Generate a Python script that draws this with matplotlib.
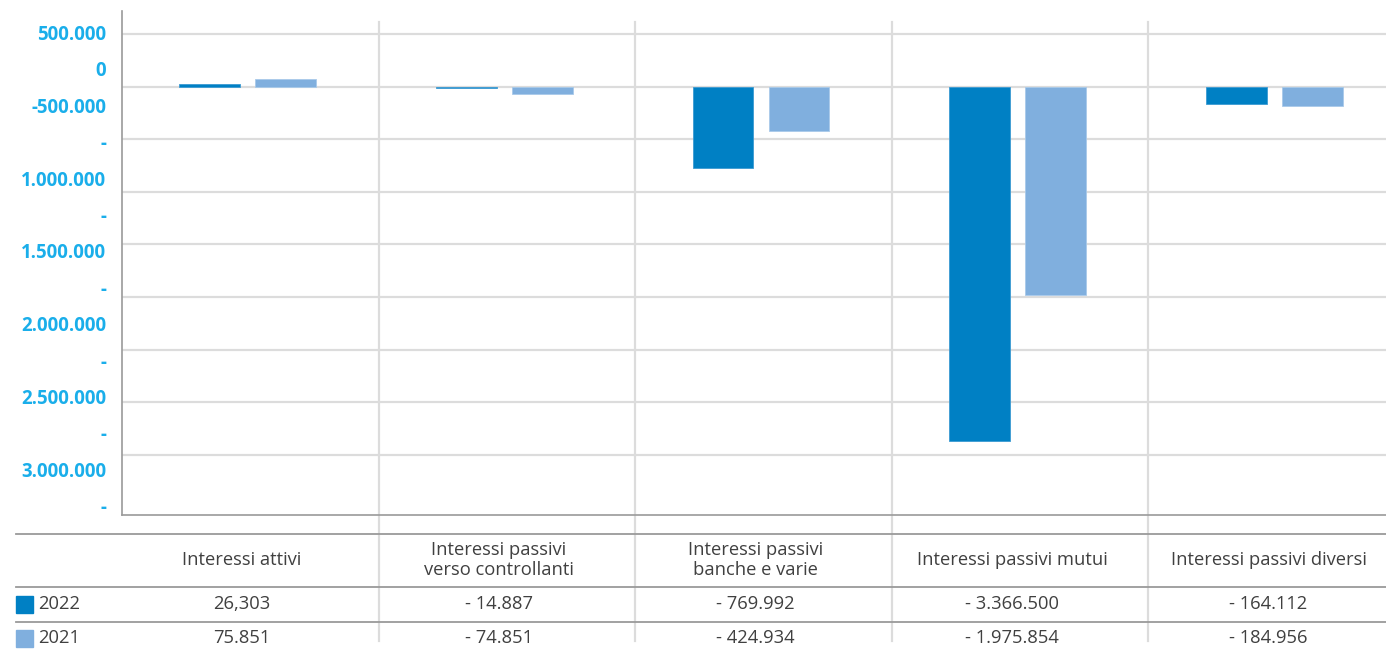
import matplotlib
matplotlib.use("Agg")
import matplotlib.pyplot as plt
from matplotlib.patches import Rectangle
from matplotlib.transforms import blended_transform_factory

# ---- data -------------------------------------------------------------
categories = [
    "Interessi attivi",
    "Interessi passivi\nverso controllanti",
    "Interessi passivi\nbanche e varie",
    "Interessi passivi mutui",
    "Interessi passivi diversi",
]
series_names = ["2022", "2021"]
values_2022 = [26303, -14887, -769992, -3366500, -164112]
values_2021 = [75851, -74851, -424934, -1975854, -184956]
table_2022 = ["26,303", "- 14.887", "- 769.992", "- 3.366.500", "- 164.112"]
table_2021 = ["75.851", "- 74.851", "- 424.934", "- 1.975.854", "- 184.956"]
y_ticks = [500000, 0, -500000, -1000000, -1500000, -2000000, -2500000,
           -3000000, -3500000]

# ---- style ------------------------------------------------------------
COL_2022 = "#0080C4"
COL_2021 = "#80AFDE"
GRID = "#DCDCDC"
RULE = "#9A9A9A"
TICK_COL = "#1AAEEA"
TXT = "#404040"
FONT = "Open Sans"
TABLE_FS = 13.2

W, H = 1386, 649
DPI = 100
fig = plt.figure(figsize=(W / DPI, H / DPI), dpi=DPI)


def fx(px):
    return px / W


def fy(py):
    return 1 - py / H


# plot area (the last column runs past the right edge of the canvas)
left, right, top, bottom = 122, 1405, 11, 515
ax = fig.add_axes([fx(left), fy(bottom), fx(right - left), (bottom - top) / H])
ax.set_xlim(-0.5, len(categories) - 0.5)
ax.set_ylim(-4.07e6, 0.718e6)

bw = 0.237
off = 0.148
nudge = -0.01
xs = range(len(categories))
ax.bar([x - off + nudge for x in xs], values_2022, width=bw, color=COL_2022,
       edgecolor="#3C9AD2", linewidth=0.6, zorder=3)
ax.bar([x + off + nudge for x in xs], values_2021, width=bw, color=COL_2021,
       edgecolor="#A9CAEA", linewidth=0.6, zorder=3)

ax.set_yticks(y_ticks)
ax.set_yticklabels([])
ax.tick_params(axis="y", length=0)
ax.set_xticks([])
ax.yaxis.grid(True, color=GRID, linewidth=1.6, zorder=0)
ax.set_axisbelow(True)
for s in ("top", "right"):
    ax.spines[s].set_visible(False)
ax.spines["left"].set_color(RULE)
ax.spines["left"].set_linewidth(1.2)
ax.spines["bottom"].set_color(RULE)
ax.spines["bottom"].set_linewidth(1.2)


# y tick labels flowed as stacked lines, long negatives wrapped after the sign
def it_fmt(v):
    s = f"{abs(v):,}".replace(",", ".")
    return ("-" if v < 0 else "") + s


label_lines = []
for v in y_ticks:
    s = it_fmt(v)
    if len(s) > 8 and s.startswith("-"):
        label_lines += ["-", s[1:]]
    else:
        label_lines.append(s)

line_y = 35.0
step = 36.4
for ln in label_lines:
    if line_y > bottom:
        break
    fig.text(fx(106), fy(line_y), ln, ha="right", va="center", color=TICK_COL,
             fontsize=13.4, fontweight="bold", family=FONT)
    line_y += step

# column separators running through plot and table
sep_tr = blended_transform_factory(ax.transData, fig.transFigure)
for i in range(len(categories) - 1):
    ax.plot([i + 0.5, i + 0.5], [fy(22), fy(641)], transform=sep_tr,
            color=GRID, linewidth=1.6, clip_on=False, zorder=1)

# table rules
for py in (534, 587, 622):
    fig.add_artist(plt.Line2D([fx(16), 1.0], [fy(py), fy(py)],
                              transform=fig.transFigure, color=RULE,
                              linewidth=1.3))

# table text
txt_tr = blended_transform_factory(ax.transData, fig.transFigure)
shift = -0.032
for i, name in enumerate(categories):
    ax.text(i + shift, fy(560), name, transform=txt_tr, ha="center",
            va="center", color=TXT, fontsize=TABLE_FS, family=FONT,
            linespacing=1.2, clip_on=False)
    ax.text(i + shift, fy(604), table_2022[i], transform=txt_tr, ha="center",
            va="center", color=TXT, fontsize=TABLE_FS, family=FONT,
            clip_on=False)
    ax.text(i + shift, fy(638), table_2021[i], transform=txt_tr, ha="center",
            va="center", color=TXT, fontsize=TABLE_FS, family=FONT,
            clip_on=False)

# series keys in the table
for name, col, py in ((series_names[0], COL_2022, 604),
                      (series_names[1], COL_2021, 638)):
    fig.add_artist(Rectangle((fx(16), fy(py + 8.5)), fx(17), 17 / H,
                             transform=fig.transFigure, color=col))
    fig.text(fx(38), fy(py), name, ha="left", va="center", color=TXT,
             fontsize=TABLE_FS, family=FONT)

fig.savefig("out.png", dpi=DPI)
